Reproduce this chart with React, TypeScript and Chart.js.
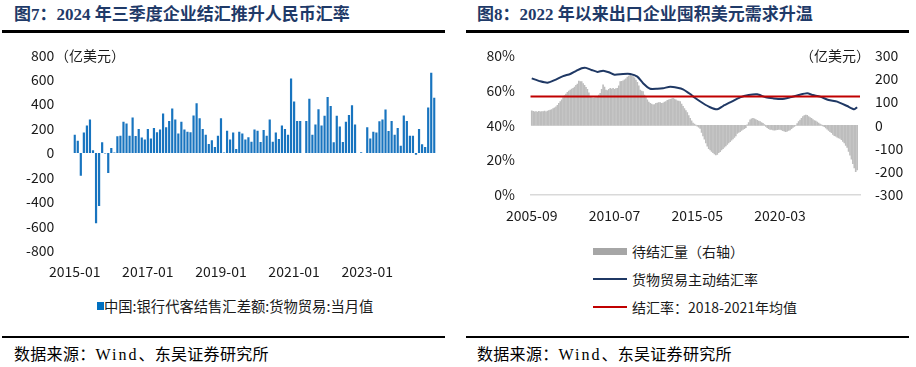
import React, { useEffect, useRef } from 'react';
import { Chart, registerables } from 'chart.js';
Chart.register(...registerables);

// ---------- Figure 7 data ----------
const fxStartMonth = '2015-01';
const fxTickEvery = 24;
const fxNetSettlement: (number | null)[] = [
  150, 100, -186, 167, 225, 274, 22, -575, -433, 88, -5, -164,
  41, 5, 137, 142, 255, 241, 142, 290, 140, 197, 126, 110,
  197, 118, 205, 170, 192, 323, 211, 263, 364, 274, 159, 255,
  192, 175, 170, 307, 408, 285, 197, 150, 74, 104, 49, 142,
  285, 5, 183, 110, 167, 33, 175, 159, 110, 129, 93, 192,
  183, 90, 189, 142, 274, 93, 167, 115, 225, 197, 150, 611,
  422, 263, 263, null, 263, 444, 150, 233, 359, 225, 304, 458,
  384, 88, 304, 216, 90, 255, 312, 392, 233, null, 6, null,
  211, 118, 175, 167, 260, 274, 356, 181, 263, 150, 205, 60,
  307, 263, 142, 142, -14, 197, 71, 49, 373, 658, 452,
];
const fxYTicks = [-800, 800, 200];

// ---------- Figure 8 data ----------
const rateStartMonth = '2005-09';
const pendingSettlement: number[] = [
  63, 60, 58, 59, 57, 60, 58, 59, 59, 61, 58, 62,
  64, 66, 68, 72, 76, 80, 86, 95, 102, 110, 120, 128,
  135, 142, 148, 152, 156, 159, 165, 172, 178, 191, 189, 188,
  180, 172, 164, 155, 140, 123, 120, 116, 118, 120, 125, 130,
  138, 155, 174, 165, 152, 150, 155, 159, 156, 159, 155, 158,
  159, 170, 188, 190, 192, 196, 200, 208, 212, 217, 212, 210,
  205, 195, 185, 170, 152, 148, 145, 130, 120, 110, 100, 95,
  92, 88, 90, 95, 96, 98, 98, 95, 96, 100, 102, 108,
  110, 112, 114, 116, 113, 110, 106, 104, 102, 92, 82, 72,
  64, 55, 42, 30, 20, 10, 5, 1, -3, -8, -13, -30,
  -45, -60, -76, -90, -100, -106, -112, -118, -123, -127, -125, -118,
  -113, -106, -100, -94, -89, -82, -76, -70, -64, -58, -52, -45,
  -35, -30, -27, -22, -17, -14, -10, 2, 12, 24, 28, 30,
  28, 25, 22, 18, 16, 12, 9, 3, -5, -10, -14, -17,
  -18, -20, -21, -20, -19, -18, -17, -20, -23, -25, -27, -25,
  -22, -20, -14, -9, -5, 0, 8, 16, 23, 30, 38, 42,
  44, 43, 38, 34, 30, 25, 21, 18, 14, 10, 6, 2,
  -2, -6, -11, -16, -22, -27, -32, -39, -44, -47, -51, -54,
  -56, -62, -69, -76, -86, -95, -112, -128, -146, -165, -183, -199, -192,
];
const rateMonths = [
  '2005-09', '2006-03', '2006-08', '2007-01', '2007-07', '2007-12', '2008-04', '2008-08',
  '2008-11', '2009-03', '2009-07', '2009-11', '2010-03', '2010-07', '2011-01', '2011-06',
  '2011-11', '2012-03', '2012-08', '2013-01', '2013-05', '2013-10', '2014-03', '2014-07',
  '2014-12', '2015-03', '2015-09', '2016-02', '2016-07', '2016-11', '2017-05', '2017-11',
  '2018-05', '2018-11', '2019-05', '2019-10', '2020-04', '2020-10', '2021-04', '2021-10',
  '2022-02', '2022-07', '2023-01', '2023-07', '2024-02', '2024-07', '2024-09',
];
const rateValues = [
  67, 65.3, 64.5, 66, 68.3, 69.5, 71.2, 72.8,
  73, 71.8, 70.7, 71.4, 70.5, 69.1, 69.5, 69.5,
  68, 64.2, 61, 61, 61.3, 62.2, 61.6, 60.7,
  58, 56, 52.7, 50.4, 49.2, 51.1, 53.6, 56.1,
  57.4, 57.8, 56.1, 55.5, 55.1, 56.1, 57.4, 58.4,
  57.4, 56.5, 54.6, 53.6, 51.1, 49.2, 50.4,
];
const rateAvg2018to2021 = 56.5;
const rateTickLabels = ['2005-09', '2010-07', '2015-05', '2020-03'];
const rateYTicks = [0, 80, 20];
const pendingYTicks = [-300, 300, 100];

// ---------- helpers ----------
function monthLabel(start: string, offset: number) {
  const [y, m] = start.split('-').map(Number);
  const t = y * 12 + (m - 1) + offset;
  const yy = Math.floor(t / 12);
  const mm = (t % 12) + 1;
  return `${yy}-${String(mm).padStart(2, '0')}`;
}
function monthOffset(start: string, ym: string) {
  const [y0, m0] = start.split('-').map(Number);
  const [y, m] = ym.split('-').map(Number);
  return (y - y0) * 12 + (m - m0);
}

const FONT = '"Noto Sans CJK SC", "Noto Sans", sans-serif';
const TICK_COLOR = '#1a1a1a';
const tickFont = { family: FONT, size: 14 };
const noGrid = { display: false, drawTicks: false };

const fixWidth = (w: number) => (s: any) => {
  s.width = w; s.paddingTop = 0; s.paddingBottom = 0;
};
const fixHeight = (h: number) => (s: any) => {
  s.height = h; s.paddingLeft = 0; s.paddingRight = 0;
};

function FxChart() {
  const ref = useRef<HTMLCanvasElement>(null);
  useEffect(() => {
    const labels = fxNetSettlement.map((_, i) => monthLabel(fxStartMonth, i));
    const chart = new Chart(ref.current!, {
      type: 'bar',
      data: {
        labels,
        datasets: [
          {
            label: '中国:银行代客结售汇差额:货物贸易:当月值',
            data: fxNetSettlement,
            backgroundColor: '#1874bf',
            barPercentage: 0.72,
            categoryPercentage: 1,
          },
        ],
      },
      options: {
        animation: false,
        responsive: false,
        maintainAspectRatio: false,
        layout: { autoPadding: false, padding: { top: 15.3, right: 14.2, left: 0, bottom: 0 } },
        plugins: { legend: { display: false }, tooltip: { enabled: false } },
        scales: {
          x: {
            grid: noGrid,
            border: { display: false },
            afterBuildTicks: (s: any) => {
              s.ticks = s.ticks.filter((t: any) => t.value % fxTickEvery === 0);
            },
            ticks: { autoSkip: false, maxRotation: 0, font: tickFont, color: TICK_COLOR, padding: 13 },
            afterFit: fixHeight(34.3),
          },
          y: {
            min: fxYTicks[0],
            max: fxYTicks[1],
            grid: noGrid,
            border: { display: false },
            ticks: { stepSize: fxYTicks[2], padding: 19, font: tickFont, color: TICK_COLOR },
            afterFit: fixWidth(73.2),
          },
        },
      },
    } as any);
    return () => chart.destroy();
  }, []);
  return (
    <canvas ref={ref} width={450} height={245}
      style={{ position: 'absolute', left: 0, top: 40, width: 450, height: 245 }} />
  );
}

function RateChart() {
  const ref = useRef<HTMLCanvasElement>(null);
  useEffect(() => {
    const n = pendingSettlement.length;
    const bars = pendingSettlement.map((v, i) => ({ x: i, y: v }));
    const line = rateMonths.map((m, i) => ({ x: monthOffset(rateStartMonth, m), y: rateValues[i] }));
    const avg = [{ x: -1, y: rateAvg2018to2021 }, { x: n + 1, y: rateAvg2018to2021 }];
    const tickIdx = rateTickLabels.map((m) => monthOffset(rateStartMonth, m));
    const chart = new Chart(ref.current!, {
      type: 'bar',
      data: {
        datasets: [
          {
            type: 'bar',
            label: '待结汇量（右轴）',
            data: bars,
            yAxisID: 'y2',
            backgroundColor: '#bdbdbd',
            barThickness: 1,
            order: 3,
          },
          {
            type: 'line',
            label: '货物贸易主动结汇率',
            data: line,
            yAxisID: 'y',
            borderColor: '#1f3864',
            borderWidth: 2,
            pointRadius: 0,
            tension: 0.2,
            order: 2,
          },
          {
            type: 'line',
            label: '结汇率：2018-2021年均值',
            data: avg,
            yAxisID: 'y',
            borderColor: '#c00000',
            borderWidth: 2,
            pointRadius: 0,
            order: 1,
          },
        ],
      },
      options: {
        animation: false,
        responsive: false,
        maintainAspectRatio: false,
        layout: { autoPadding: false, padding: { top: 15.7, right: 0, left: 0, bottom: 0 } },
        plugins: { legend: { display: false }, tooltip: { enabled: false } },
        scales: {
          x: {
            type: 'linear',
            offset: false,
            min: -1,
            max: n + 1,
            grid: noGrid,
            border: { display: true, color: '#d9d9d9', width: 1.5 },
            afterBuildTicks: (s: any) => { s.ticks = tickIdx.map((v) => ({ value: v })); },
            ticks: {
              autoSkip: false, maxRotation: 0, font: tickFont, color: TICK_COLOR, padding: 12,
              callback: (v: any) => monthLabel(rateStartMonth, Number(v)),
            },
            afterFit: fixHeight(45),
          },
          y: {
            position: 'left',
            min: rateYTicks[0],
            max: rateYTicks[1],
            grid: noGrid,
            border: { display: false },
            ticks: {
              stepSize: rateYTicks[2], padding: 15.3, font: tickFont, color: TICK_COLOR,
              callback: (v: any) => `${v}%`,
            },
            afterFit: fixWidth(70.3),
          },
          y2: {
            position: 'right',
            min: pendingYTicks[0],
            max: pendingYTicks[1],
            grid: noGrid,
            border: { display: false },
            ticks: { stepSize: pendingYTicks[2], padding: 15, font: tickFont, color: TICK_COLOR },
            afterFit: fixWidth(56),
          },
        },
      },
    } as any);
    return () => chart.destroy();
  }, []);
  return (
    <canvas ref={ref} width={456} height={200}
      style={{ position: 'absolute', left: 460, top: 40, width: 456, height: 200 }} />
  );
}

const titleStyle: React.CSSProperties = {
  position: 'absolute', top: 6, fontFamily: '"Liberation Serif", "Noto Sans CJK SC", serif',
  fontWeight: 'bold', fontSize: 17, lineHeight: '18px', color: '#1f3a68', whiteSpace: 'nowrap',
};
const sourceStyle: React.CSSProperties = {
  position: 'absolute', top: 346, fontFamily: '"Liberation Serif", "Noto Sans CJK SC", serif',
  fontSize: 16, lineHeight: '17px', color: '#000', whiteSpace: 'nowrap', letterSpacing: 0.3,
};
const ruleStyle = (left: number, top: number, width: number, h: number): React.CSSProperties => ({
  position: 'absolute', left, top, width, height: h, background: '#000',
});
const labelStyle: React.CSSProperties = {
  position: 'absolute', fontFamily: FONT, fontSize: 14, lineHeight: '16px', color: '#1a1a1a', whiteSpace: 'nowrap',
};

export default function App() {
  return (
    <div style={{ position: 'fixed', left: 0, top: 0, width: 916, height: 367, background: '#fff', overflow: 'hidden' }}>
      <div style={{ ...titleStyle, left: 14 }}>图7：2024 年三季度企业结汇推升人民币汇率</div>
      <div style={{ ...titleStyle, left: 477 }}>图8：2022 年以来出口企业囤积美元需求升温</div>
      <div style={ruleStyle(2, 30, 443, 2.5)} />
      <div style={ruleStyle(466, 30, 443, 2.5)} />

      <FxChart />
      <RateChart />

      <div style={{ ...labelStyle, left: 55, top: 47 }}>（亿美元）</div>
      <div style={{ ...labelStyle, left: 800, top: 47 }}>（亿美元）</div>

      {/* Figure 7 legend */}
      <div style={{ position: 'absolute', left: 97, top: 302, width: 7, height: 8, background: '#0070c0' }} />
      <div style={{ ...labelStyle, left: 104, top: 298, fontSize: 14.3 }}>中国:银行代客结售汇差额:货物贸易:当月值</div>

      {/* Figure 8 legend */}
      <div style={{ position: 'absolute', left: 593, top: 247.5, width: 34, height: 7, background: '#a6a6a6' }} />
      <div style={{ ...labelStyle, left: 632, top: 243 }}>待结汇量（右轴）</div>
      <div style={{ position: 'absolute', left: 593, top: 278, width: 34, height: 2, background: '#1f3864' }} />
      <div style={{ ...labelStyle, left: 632, top: 271 }}>货物贸易主动结汇率</div>
      <div style={{ position: 'absolute', left: 593, top: 306, width: 34, height: 2, background: '#c00000' }} />
      <div style={{ ...labelStyle, left: 632, top: 299 }}>结汇率：2018-2021年均值</div>

      <div style={ruleStyle(2, 335.5, 443, 2)} />
      <div style={ruleStyle(466, 335.5, 443, 2)} />
      <div style={{ ...sourceStyle, left: 14 }}>数据来源：<span style={{ letterSpacing: 2 }}>Wind</span>、东吴证券研究所</div>
      <div style={{ ...sourceStyle, left: 477 }}>数据来源：<span style={{ letterSpacing: 2 }}>Wind</span>、东吴证券研究所</div>
    </div>
  );
}
